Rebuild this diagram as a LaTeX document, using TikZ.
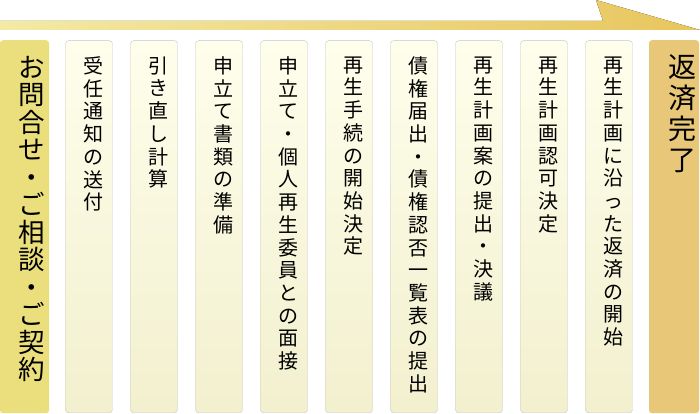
\documentclass[tikz,border=0pt]{standalone}
\usepackage{fontspec}
\setmainfont{Noto Sans CJK JP}
\usepackage{tikz}
\usetikzlibrary{positioning}
\definecolor{arrowl}{HTML}{F3EAA4}
\definecolor{arrowr}{HTML}{E8C65E}
\definecolor{coltop}{HTML}{FEFEEC}
\definecolor{colbot}{HTML}{F2F0CE}
\definecolor{colline}{HTML}{C6C6C6}
\definecolor{firstfill}{HTML}{EADF7C}
\definecolor{lastfill}{HTML}{E8C878}
\tikzstyle{stepcol} = [draw=colline, top color=coltop, bottom color=colbot, rounded corners=3pt, minimum width=47pt, minimum height=372pt, inner sep=0pt, anchor=north]
\tikzstyle{firstcol} = [fill=firstfill, rounded corners=3pt, minimum width=49pt, minimum height=373pt, inner sep=0pt, anchor=north]
\tikzstyle{lastcol} = [fill=lastfill, rounded corners=3pt, minimum width=50pt, minimum height=373pt, inner sep=0pt, anchor=north]
\tikzstyle{tate} = [inner sep=0pt, text width=1.2em, align=center, font=\fontsize{20pt}{22.7pt}\selectfont]
\tikzstyle{tatebig} = [tate, font=\fontsize{26.5pt}{27.5pt}\selectfont]
\tikzstyle{tatelast} = [tate, font=\fontsize{28pt}{31pt}\selectfont]
% one character per line
\def\tatestop{}
\def\tatesplit#1{\ifx#1\tatestop\else#1\\\expandafter\tatesplit\fi}
\newcommand\tate[1]{\tatesplit#1\tatestop}

\begin{document}
\begin{tikzpicture}[x=1pt, y=1pt]
  \useasboundingbox (0,0) rectangle (700,-414);
  % flow arrow
  \fill [left color=arrowl, right color=arrowr] (0,-21) -- (603,-21) -- (596,0) -- (700,-30) -- (0,-30) -- cycle;
  % columns
  \node (c0) at (24.5,-40) [firstcol] {};
  \node (c1) at (89,-40.5) [stepcol] {};
  \node (c2) at (154,-40.5) [stepcol] {};
  \node (c3) at (219,-40.5) [stepcol] {};
  \node (c4) at (284,-40.5) [stepcol] {};
  \node (c5) at (349,-40.5) [stepcol] {};
  \node (c6) at (414,-40.5) [stepcol] {};
  \node (c7) at (479,-40.5) [stepcol] {};
  \node (c8) at (544,-40.5) [stepcol] {};
  \node (c9) at (609,-40.5) [stepcol] {};
  \node (c10) at (674,-40) [lastcol] {};
  % texts
  \node (t0) [tatebig, below=16pt of c0.north] {\tate{お問合せ・ご相談・ご契約}};
  \node (t1) [tate, below=16pt of c1.north] {\tate{受任通知の送付}};
  \node (t2) [tate, below=16pt of c2.north] {\tate{引き直し計算}};
  \node (t3) [tate, below=16pt of c3.north] {\tate{申立て書類の準備}};
  \node (t4) [tate, below=16pt of c4.north] {\tate{申立て・個人再生委員との面接}};
  \node (t5) [tate, below=16pt of c5.north] {\tate{再生手続の開始決定}};
  \node (t6) [tate, below=16pt of c6.north] {\tate{債権届出・債権認否一覧表の提出}};
  \node (t7) [tate, below=16pt of c7.north] {\tate{再生計画案の提出・決議}};
  \node (t8) [tate, below=16pt of c8.north] {\tate{再生計画認可決定}};
  \node (t9) [tate, below=16pt of c9.north] {\tate{再生計画に沿った返済の開始}};
  \node (t10) [tatelast, below=14pt of c10.north] {\tate{返済完了}};
\end{tikzpicture}
\end{document}
